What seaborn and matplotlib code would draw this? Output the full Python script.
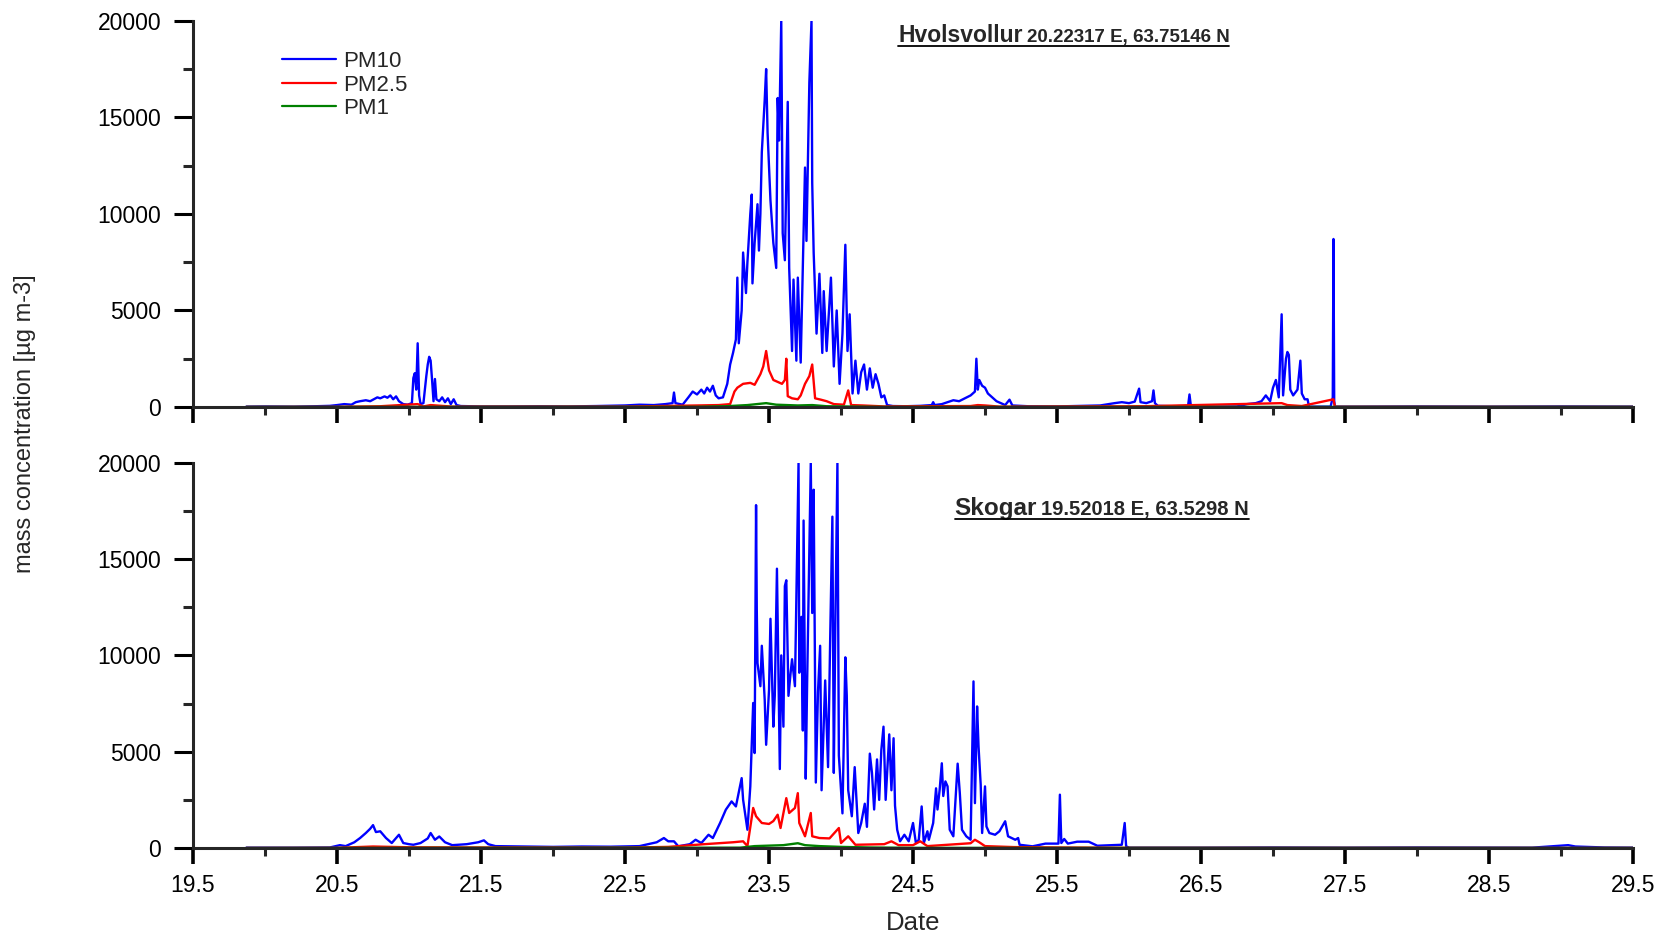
import numpy as np
import pandas as pd
import matplotlib
matplotlib.use("Agg")
import matplotlib.pyplot as plt
from matplotlib.lines import Line2D
import seaborn as sns

# ---------------- data ----------------
# Hvolsvollur (top panel)
hv_pm10_t = [19.87, 20.0, 20.2, 20.35, 20.45, 20.50, 20.55, 20.60, 20.63, 20.66, 20.70, 20.73, 20.76, 20.78,
             20.80, 20.83, 20.85, 20.87, 20.89, 20.91, 20.93, 20.96, 20.99, 21.02, 21.03, 21.04, 21.05, 21.06,
             21.07, 21.08, 21.10, 21.12, 21.13, 21.14, 21.15, 21.16, 21.17, 21.18, 21.19, 21.21, 21.23, 21.25,
             21.27, 21.29, 21.31, 21.33, 21.36, 21.5, 21.7, 21.9, 22.1, 22.3, 22.5, 22.6, 22.7, 22.78, 22.83,
             22.84, 22.85, 22.9, 22.94, 22.97, 23.0, 23.03, 23.05, 23.07, 23.09, 23.11, 23.13, 23.15, 23.18,
             23.21, 23.23, 23.25, 23.27, 23.28, 23.29, 23.31, 23.32, 23.34, 23.35, 23.37, 23.38, 23.385, 23.40,
             23.42, 23.43, 23.44, 23.45, 23.47, 23.48, 23.49, 23.51, 23.53, 23.55, 23.56, 23.57, 23.585, 23.595,
             23.61, 23.63, 23.64, 23.66, 23.67, 23.69, 23.70, 23.72, 23.74, 23.75, 23.76, 23.78, 23.795, 23.80,
             23.81, 23.83, 23.85, 23.87, 23.88, 23.90, 23.93, 23.95, 23.97, 23.99, 24.01, 24.03, 24.045, 24.06,
             24.08, 24.10, 24.12, 24.14, 24.16, 24.18, 24.20, 24.22, 24.24, 24.26, 24.28, 24.30, 24.32, 24.36,
             24.45, 24.55, 24.63, 24.64, 24.65, 24.70, 24.74, 24.78, 24.82, 24.86, 24.90, 24.93, 24.94, 24.95,
             24.96, 24.98, 25.0, 25.02, 25.05, 25.08, 25.11, 25.14, 25.17, 25.19, 25.3, 25.5, 25.7, 25.8, 25.9,
             25.95, 26.0, 26.04, 26.07, 26.08, 26.12, 26.16, 26.17, 26.18, 26.2, 26.3, 26.41, 26.42, 26.43,
             26.6, 26.75, 26.82, 26.88, 26.92, 26.95, 26.98, 27.0, 27.02, 27.04, 27.06, 27.07, 27.09, 27.10,
             27.11, 27.12, 27.14, 27.17, 27.19, 27.20, 27.22, 27.24, 27.25, 27.4, 27.415, 27.42, 27.425, 27.43,
             27.6, 28.0, 28.5, 29.0, 29.5]
hv_pm10_v = [20, 30, 20, 40, 60, 100, 150, 120, 250, 300, 350, 300, 420, 500,
             450, 550, 480, 600, 400, 550, 300, 150, 120, 200, 1500, 1750, 900, 3300,
             600, 150, 200, 1600, 2200, 2600, 2400, 1400, 300, 1450, 400, 300, 500, 250,
             450, 150, 400, 100, 50, 30, 30, 40, 30, 50, 80, 120, 100, 150, 200,
             750, 200, 120, 500, 800, 650, 900, 700, 1000, 800, 1100, 600, 450, 500,
             1200, 2200, 2800, 3500, 6700, 3300, 5000, 8000, 5900, 7500, 10000, 11000, 6400, 8500,
             10500, 8100, 10000, 13200, 15900, 17500, 14200, 10700, 8500, 7200, 16000, 13800, 20000, 9000,
             7600, 15800, 7200, 2900, 6600, 2400, 6700, 2300, 9000, 12400, 8600, 16800, 20000, 11600,
             8000, 3800, 6900, 2800, 6000, 2900, 6700, 2100, 5000, 1200, 3800, 8400, 2900, 4800,
             700, 2400, 700, 1800, 2200, 900, 2000, 1000, 1700, 1200, 500, 600, 100, 50,
             40, 60, 100, 250, 100, 150, 250, 350, 300, 450, 600, 800, 2500, 900,
             1400, 1100, 1000, 700, 500, 300, 200, 100, 380, 80, 40, 30, 60, 80, 200,
             250, 200, 280, 950, 250, 200, 300, 860, 200, 60, 40, 50, 650, 30,
             20, 30, 150, 200, 300, 600, 300, 1000, 1400, 500, 4800, 600, 2500, 2850,
             2700, 900, 600, 900, 2400, 700, 400, 400, 20, 20, 500, 8700, 300, 20,
             20, 30, 20, 30, 20]

hv_pm25_t = [19.87, 20.5, 20.8, 21.06, 21.1, 21.15, 21.3, 22.5, 23.0, 23.15, 23.23, 23.26, 23.28, 23.32,
             23.37, 23.40, 23.44, 23.46, 23.48, 23.50, 23.53, 23.56, 23.59, 23.61, 23.62, 23.63, 23.66,
             23.70, 23.72, 23.75, 23.78, 23.80, 23.82, 23.86, 23.9, 23.95, 24.02, 24.05, 24.07, 24.15,
             24.3, 24.9, 24.95, 25.0, 25.1, 26.1, 27.06, 27.1, 27.2, 27.42, 27.43, 29.5]
hv_pm25_v = [5, 10, 40, 150, 30, 100, 20, 20, 80, 100, 150, 800, 1000, 1200,
             1250, 1150, 1700, 2100, 2900, 1900, 1400, 1300, 1200, 1400, 2500, 560, 450,
             400, 600, 1200, 1600, 2200, 450, 380, 300, 150, 120, 860, 100, 80,
             30, 50, 100, 80, 20, 40, 200, 100, 50, 400, 10, 5]

hv_pm1_t = [19.87, 23.0, 23.2, 23.35, 23.48, 23.55, 23.7, 23.8, 23.9, 24.1, 24.3, 29.5]
hv_pm1_v = [5, 10, 40, 100, 200, 120, 80, 100, 40, 20, 5, 5]

# Skogar (bottom panel)
sk_pm10_t = [19.87, 20.2, 20.45, 20.52, 20.56, 20.62, 20.66, 20.70, 20.73, 20.75, 20.77, 20.80, 20.84,
             20.88, 20.93, 20.96, 21.0, 21.03, 21.08, 21.13, 21.15, 21.18, 21.21, 21.25, 21.3, 21.4, 21.48,
             21.52, 21.55, 21.6, 21.8, 22.0, 22.2, 22.4, 22.6, 22.72, 22.77, 22.80, 22.84, 22.87, 22.95,
             22.99, 23.03, 23.08, 23.11, 23.16, 23.20, 23.24, 23.27, 23.31, 23.32, 23.35, 23.37, 23.39,
             23.40, 23.41, 23.415, 23.42, 23.44, 23.45, 23.47, 23.48, 23.50, 23.51, 23.53, 23.54, 23.555,
             23.575, 23.585, 23.60, 23.61, 23.62, 23.635, 23.65, 23.66, 23.68, 23.705, 23.71, 23.725,
             23.735, 23.74, 23.755, 23.765, 23.79, 23.80, 23.81, 23.825, 23.84, 23.855, 23.865, 23.89,
             23.91, 23.925, 23.94, 23.95, 23.96, 23.975, 23.985, 24.01, 24.03, 24.04, 24.05, 24.075,
             24.095, 24.12, 24.14, 24.165, 24.18, 24.20, 24.215, 24.23, 24.25, 24.265, 24.28, 24.295,
             24.31, 24.335, 24.35, 24.365, 24.375, 24.39, 24.41, 24.44, 24.47, 24.50, 24.52, 24.54,
             24.56, 24.575, 24.60, 24.61, 24.64, 24.66, 24.67, 24.685, 24.70, 24.71, 24.725, 24.74,
             24.755, 24.78, 24.81, 24.825, 24.84, 24.87, 24.90, 24.92, 24.93, 24.945, 24.955, 24.97,
             24.98, 25.00, 25.01, 25.03, 25.07, 25.10, 25.14, 25.16, 25.21, 25.23, 25.24, 25.33, 25.42,
             25.51, 25.52, 25.53, 25.55, 25.575, 25.64, 25.72, 25.78, 25.95, 25.97, 25.98, 26.0, 26.5,
             27.0, 27.5, 28.0, 28.8, 29.05, 29.1, 29.3, 29.5]
sk_pm10_v = [20, 20, 30, 150, 100, 300, 520, 780, 1000, 1190, 830, 870, 520,
             260, 690, 260, 200, 170, 260, 500, 780, 430, 600, 300, 150, 200, 300,
             400, 200, 100, 80, 60, 80, 70, 100, 300, 520, 350, 350, 90, 200,
             430, 260, 690, 520, 1300, 1990, 2420, 2160, 3630, 2510, 950, 3200, 7530,
             4930, 17800, 12400, 9600, 8400, 10500, 7700, 5360, 8200, 11900, 6300, 7900, 14500,
             4100, 10000, 6300, 13600, 13900, 7900, 9100, 9800, 8400, 20000, 9100, 12000,
             6100, 17000, 3600, 8700, 20000, 12200, 18600, 3400, 8100, 10500, 3000, 8700,
             4200, 11000, 17200, 3900, 11300, 20000, 4800, 1800, 9900, 7900, 3000, 1650,
             4200, 780, 1300, 2300, 1100, 4900, 3900, 2000, 4600, 2500, 5100, 6300,
             2500, 5900, 3000, 5700, 2200, 950, 350, 690, 350, 1300, 260, 430,
             2160, 260, 870, 430, 1300, 3100, 2000, 3030, 4400, 2700, 3460, 3200,
             950, 610, 4380, 2850, 950, 610, 430, 8650, 2330, 7350, 5280, 3290,
             780, 3200, 1120, 780, 690, 870, 1390, 610, 430, 520, 170, 90, 230,
             230, 2770, 260, 470, 230, 330, 330, 120, 170, 1300, 90, 20, 20,
             30, 20, 30, 20, 150, 80, 30, 20]

sk_pm25_t = [19.87, 20.5, 20.75, 21.0, 21.5, 22.5, 22.8, 23.05, 23.15, 23.25, 23.32, 23.35, 23.39, 23.41,
             23.45, 23.5, 23.53, 23.56, 23.58, 23.62, 23.64, 23.68, 23.70, 23.71, 23.75, 23.79, 23.80,
             23.85, 23.92, 23.985, 24.0, 24.05, 24.1, 24.3, 24.35, 24.4, 24.5, 24.55, 24.6, 24.9, 24.93,
             24.96, 25.0, 25.2, 25.5, 26.0, 29.5]
sk_pm25_v = [5, 10, 80, 40, 30, 20, 60, 200, 250, 300, 350, 100, 2080, 1650,
             1300, 1250, 1400, 1730, 1040, 2590, 1820, 2080, 2850, 1300, 610, 1820, 610,
             520, 500, 1040, 260, 610, 170, 200, 350, 150, 150, 350, 100, 250, 430,
             300, 100, 50, 30, 10, 5]

sk_pm1_t = [19.87, 23.3, 23.4, 23.6, 23.7, 23.75, 23.85, 24.0, 24.2, 24.5, 29.5]
sk_pm1_v = [5, 20, 100, 150, 250, 150, 100, 60, 30, 10, 5]

series_names = ["PM10", "PM2.5", "PM1"]
series_colors = ["#0000ff", "#ff0000", "#008000"]
x_major = [19.5, 20.5, 21.5, 22.5, 23.5, 24.5, 25.5, 26.5, 27.5, 28.5, 29.5]
y_major = [0, 5000, 10000, 15000, 20000]

# ---------------- style ----------------
sns.set_theme(style="ticks")
plt.rcParams['font.family'] = ['Liberation Sans', 'DejaVu Sans']
plt.rcParams['axes.linewidth'] = 2.2

fig = plt.figure(figsize=(16.67, 9.35), dpi=100)
ax1 = fig.add_axes([0.1158, 0.5647, 0.8638, 0.4131])
ax2 = fig.add_axes([0.1158, 0.0930, 0.8638, 0.4121])

panels = [
    (ax1, [(hv_pm10_t, hv_pm10_v), (hv_pm25_t, hv_pm25_v), (hv_pm1_t, hv_pm1_v)]),
    (ax2, [(sk_pm10_t, sk_pm10_v), (sk_pm25_t, sk_pm25_v), (sk_pm1_t, sk_pm1_v)]),
]

for ax, data in panels:
    for (t, v), name, col in zip(data, series_names, series_colors):
        df = pd.DataFrame({"Date": t, "val": v})
        sns.lineplot(data=df, x="Date", y="val", ax=ax, color=col, lw=1.7,
                     estimator=None, sort=False, label=name if ax is ax1 else None)
    ax.set_xlim(19.5, 29.5)
    ax.set_ylim(0, 20000)
    ax.set_xticks(x_major)
    ax.set_xticks(np.arange(20, 29.6, 1.0), minor=True)
    ax.set_yticks(y_major)
    ax.set_yticks([2500, 7500, 12500, 17500], minor=True)
    ax.set_xticklabels([f"{x:.1f}" for x in x_major])
    ax.set_yticklabels([str(y) for y in y_major])
    for s in ["top", "right"]:
        ax.spines[s].set_visible(False)
    ax.spines["left"].set_linewidth(2.2)
    ax.spines["bottom"].set_linewidth(2.2)
    ax.tick_params(axis="y", which="major", direction="out", length=14, width=2.2,
                   labelsize=16.5, pad=9, colors="black")
    ax.tick_params(axis="y", which="minor", direction="out", length=7.5, width=2.2)
    ax.tick_params(axis="x", which="major", direction="out", length=11.5, width=2.6,
                   labelsize=16.5, pad=7, colors="black")
    ax.tick_params(axis="x", which="minor", direction="out", length=6, width=2.2)
    ax.set_xlabel("")
    ax.set_ylabel("")
    ax.set_facecolor("white")

ax1.tick_params(axis="x", labelbottom=False)
ax2.set_xlabel("Date", fontsize=18.5, labelpad=10)

leg = ax1.legend(loc="upper left", bbox_to_anchor=(0.062, 0.922), frameon=False,
                 fontsize=16, handlelength=2.4, handletextpad=0.35, labelspacing=0.12,
                 borderpad=0, borderaxespad=0)
for line in leg.get_lines():
    line.set_linewidth(1.6)

fig.text(0.015, 0.547, "mass concentration [µg m-3]", rotation=90, va="center",
         ha="center", fontsize=17)

# station labels
fig.canvas.draw()
renderer = fig.canvas.get_renderer()

def station_label(ax, x, y, name, coords, s1, s2):
    t1 = ax.text(x, y, name, transform=ax.transAxes, fontsize=s1, fontweight="bold",
                 va="baseline", ha="left")
    fig.canvas.draw()
    bb1 = t1.get_window_extent(renderer)
    inv = ax.transAxes.inverted()
    x2 = inv.transform((bb1.x1 + 4, 0))[0]
    t2 = ax.text(x2, y, coords, transform=ax.transAxes, fontsize=s2, fontweight="bold",
                 va="baseline", ha="left")
    fig.canvas.draw()
    bb2 = t2.get_window_extent(renderer)
    base_px = ax.transAxes.transform((0, y))[1] - 3.5
    finv = fig.transFigure.inverted()
    p0 = finv.transform((bb1.x0, base_px))
    p1 = finv.transform((bb2.x1, base_px))
    fig.add_artist(Line2D([p0[0], p1[0]], [p0[1], p1[1]], transform=fig.transFigure,
                          color="black", lw=1.3))

station_label(ax1, 0.4896, 0.945, "Hvolsvollur", "20.22317 E, 63.75146 N", 16.5, 13.5)
station_label(ax2, 0.529, 0.864, "Skogar", "19.52018 E, 63.5298 N", 17.5, 14.5)

fig.savefig("out.png", dpi=100, facecolor="white")
